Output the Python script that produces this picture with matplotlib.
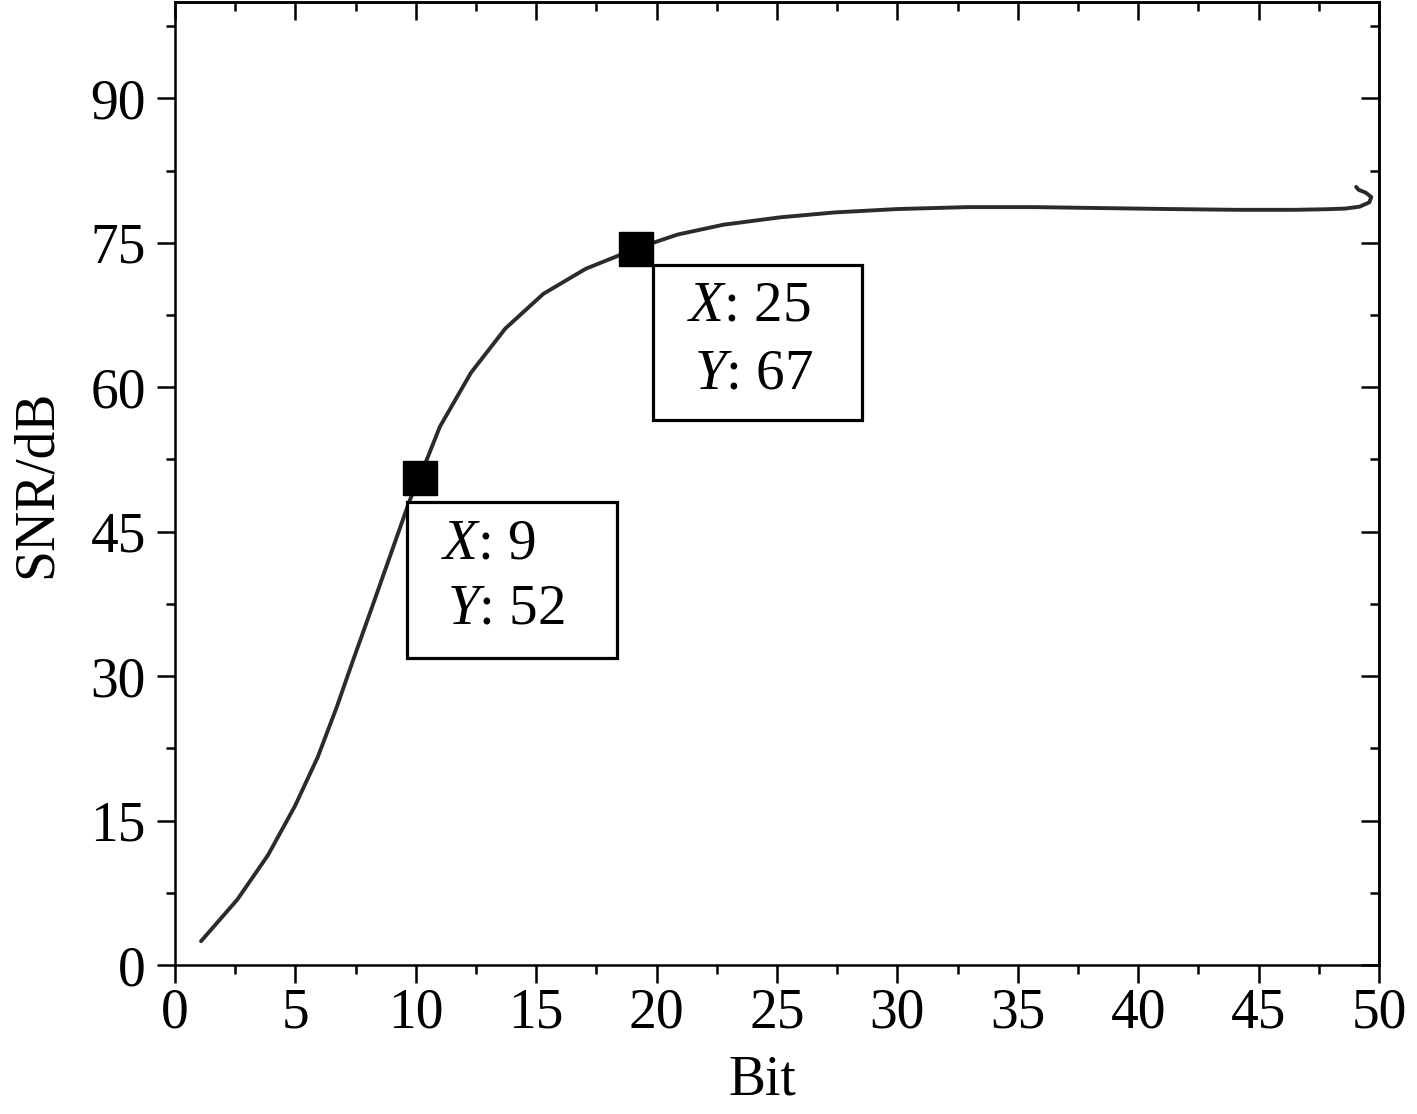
import matplotlib
matplotlib.use("Agg")
import matplotlib.pyplot as plt
from matplotlib.patches import Rectangle

# ---- data ----
bits = [1.08, 2.59, 3.86, 4.98, 5.93, 6.72, 7.36, 8.16, 8.95, 9.74, 10.19, 11.0,
        12.29, 13.72, 15.3, 17.06, 19.15, 20.87, 22.77, 25.13, 27.4, 30.0, 32.9,
        35.7, 38.5, 41.3, 44.1, 46.5, 47.8, 48.6, 49.2, 49.6, 49.68, 49.45, 49.15, 49.05]
snr = [2.47, 6.8, 11.4, 16.5, 21.6, 26.8, 31.4, 37.0, 42.6, 48.2, 50.8, 55.9,
       61.5, 66.1, 69.7, 72.3, 74.4, 75.85, 76.87, 77.64, 78.15, 78.5, 78.7,
       78.7, 78.6, 78.5, 78.42, 78.42, 78.48, 78.55, 78.75, 79.2, 79.75, 80.2, 80.5, 80.8]

marker_x = [10.17, 19.14]
marker_y = [50.6, 74.3]
label_lines = [[r"$\mathit{X}$: 9", r"$\mathit{Y}$: 52"],
               [r"$\mathit{X}$: 25", r"$\mathit{Y}$: 67"]]

xticks = [0, 5, 10, 15, 20, 25, 30, 35, 40, 45, 50]
yticks = [0, 15, 30, 45, 60, 75, 90]

plt.rcParams['font.family'] = ['Liberation Serif', 'DejaVu Serif']
plt.rcParams['mathtext.fontset'] = 'custom'
plt.rcParams['mathtext.rm'] = 'Liberation Serif'
plt.rcParams['mathtext.it'] = 'Liberation Serif:italic'

W, H = 1417, 1114
fig = plt.figure(figsize=(W / 100, H / 100), dpi=100)
L, R, T, B = 175, 1379, 2, 965
ax = fig.add_axes([L / W, 1 - B / H, (R - L) / W, (B - T) / H])

ax.plot(bits, snr, color='#2b2b2b', lw=2.8, zorder=3,
        solid_capstyle='round', solid_joinstyle='round')

# annotation boxes (data coords)
boxes = [(9.62, 31.84, 18.34, 48.1), (19.86, 56.58, 28.52, 72.67)]
text_pos = [[(11.05, 42.25), (11.3, 35.5)], [(21.25, 66.96), (21.55, 59.9)]]
for (x0, y0, x1, y1), lines, poss in zip(boxes, label_lines, text_pos):
    ax.add_patch(Rectangle((x0, y0), x1 - x0, y1 - y0, facecolor='white',
                           edgecolor='black', lw=2.3, zorder=4))
    for s, (tx, ty) in zip(lines, poss):
        ax.text(tx, ty, s, fontsize=41, ha='left', va='baseline', zorder=5)

ax.plot(marker_x, marker_y, 's', color='black', ms=25, zorder=6)

ax.set_xlim(0, 50)
ax.set_ylim(0, 100)
ax.set_xticks(xticks)
ax.set_yticks(yticks)
ax.set_xticks([x + 2.5 for x in xticks[:-1]], minor=True)
ax.set_yticks([y + 7.5 for y in yticks], minor=True)
ax.tick_params(which='major', direction='out', length=13, width=1.8, labelsize=40)
ax.tick_params(which='minor', direction='out', length=6.5, width=1.8)
ax.tick_params(axis='x', pad=3)
ax.tick_params(axis='y', pad=8)
for sp in ax.spines.values():
    sp.set_linewidth(1.8)

secx = ax.secondary_xaxis('top')
secx.set_xticks(xticks)
secx.set_xticks([x + 2.5 for x in xticks[:-1]], minor=True)
secx.tick_params(which='major', direction='in', length=13, width=1.8, labeltop=False)
secx.tick_params(which='minor', direction='in', length=6.5, width=1.8)
secx.spines['top'].set_linewidth(1.8)
secy = ax.secondary_yaxis('right')
secy.set_yticks(yticks)
secy.set_yticks([y + 7.5 for y in yticks], minor=True)
secy.tick_params(which='major', direction='in', length=13, width=1.8, labelright=False)
secy.tick_params(which='minor', direction='in', length=6.5, width=1.8)
secy.spines['right'].set_linewidth(1.8)

ax.set_xlabel('Bit', fontsize=40)
ax.set_ylabel('SNR/dB', fontsize=40, labelpad=20)
ax.xaxis.set_label_coords((762 - L) / (R - L), -0.093)

fig.savefig('out.png', dpi=100)
